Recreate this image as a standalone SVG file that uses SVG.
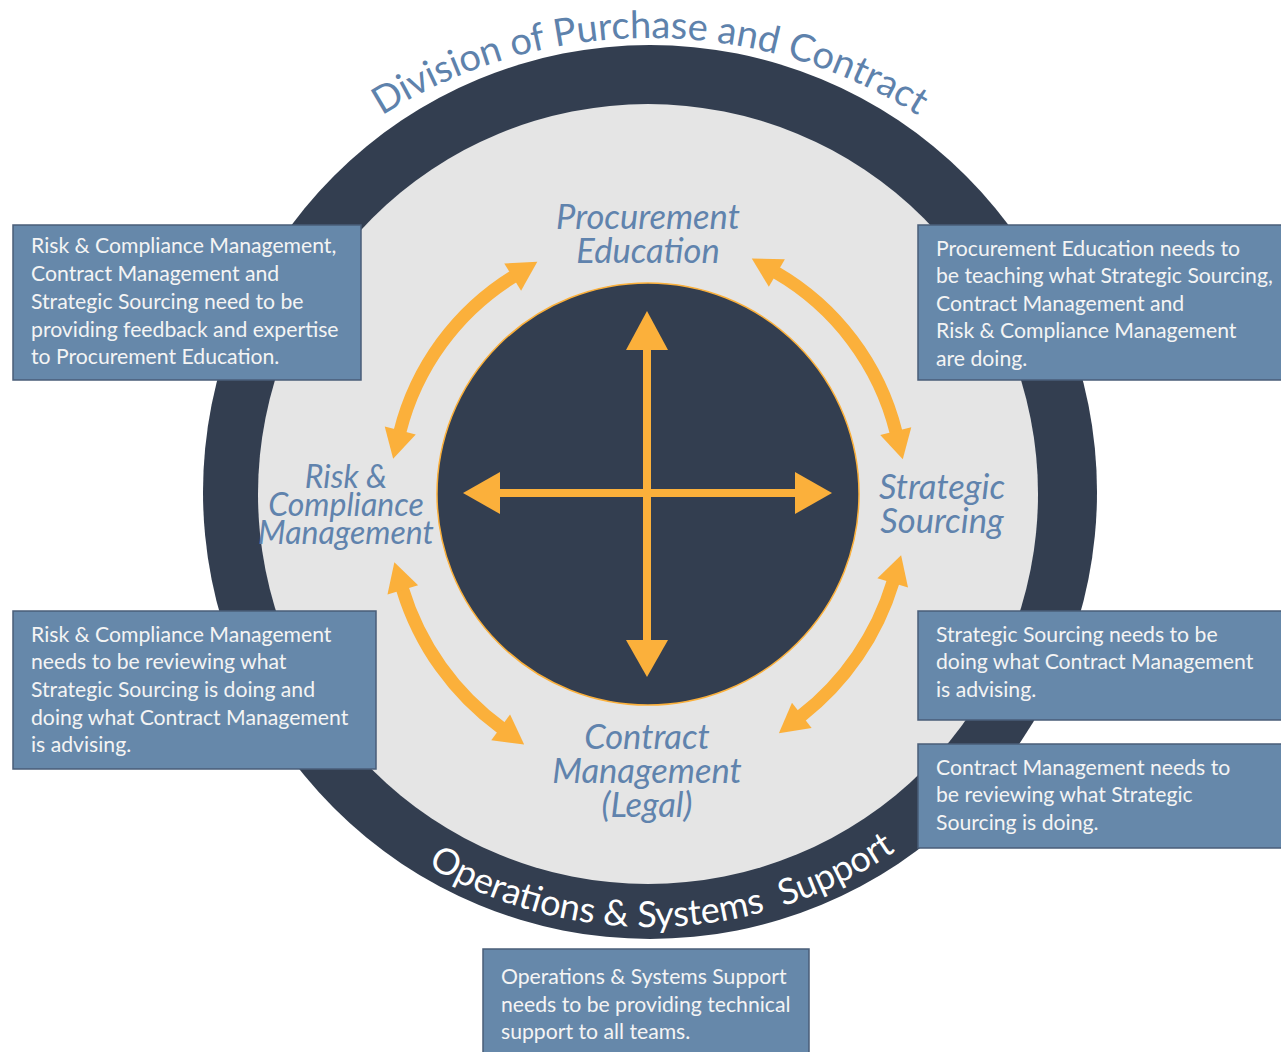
<svg xmlns="http://www.w3.org/2000/svg" width="1281" height="1052" viewBox="0 0 1281 1052">
<defs>
<style>
.box{fill:#6688aa;stroke:#4a5d78;stroke-width:1.5}
.bt{font-family:Lato,"Open Sans",sans-serif;font-size:21.2px;fill:#f4f4f4}
.lbl{font-family:Lato,"Open Sans",sans-serif;font-style:italic;font-size:34.5px;fill:#6083ad;text-anchor:middle}
.lbl-sm{font-size:32px}
.arc{fill:none;stroke:#fbb03b;stroke-width:13;marker-start:url(#ah);marker-end:url(#ah)}
.title{font-family:Lato,"Open Sans",sans-serif;font-size:38px;fill:#5e82ac}
.ops{font-family:Lato,"Open Sans",sans-serif;font-size:36px;fill:#ffffff}
</style>
<marker id="ah" markerUnits="userSpaceOnUse" markerWidth="34" markerHeight="36" refX="1" refY="16" orient="auto-start-reverse" overflow="visible">
<path d="M0,0 L29,16 L0,32 Z" fill="#fbb03b"/>
</marker>
<path id="topPath" d="M148,540 A502,502 0 0 1 1152,540"/>
<path id="botPath" d="M215,492 A435,435 0 0 0 1085,492"/>
</defs>
<rect width="1281" height="1052" fill="#ffffff"/>
<g id="ring">
<circle cx="650" cy="492" r="447" fill="#333e50"/>
<circle cx="648" cy="494" r="390" fill="#e5e5e5"/>
<circle cx="648" cy="494" r="211" fill="#333e50" stroke="#fbb03b" stroke-width="1.5"/>
</g>
<g id="title-division">
<text class="title"><textPath href="#topPath" startOffset="50%" text-anchor="middle">Division of Purchase and Contract</textPath></text>
</g>
<g id="title-operations">
<text class="ops" xml:space="preserve"><textPath href="#botPath" startOffset="697" text-anchor="middle">Operations &amp; Systems  Support</textPath></text>
</g>
<g id="connectors">
<path d="M643,350 h8 v290 h-8 z" fill="#fbb03b"/>
<polygon points="647,311 668,350 626,350" fill="#fbb03b"/>
<polygon points="647,677 668,640 626,640" fill="#fbb03b"/>
<path d="M500,489 h295 v8 h-295 z" fill="#fbb03b"/>
<polygon points="463,493 500,472 500,514" fill="#fbb03b"/>
<polygon points="832,493 795,472 795,514" fill="#fbb03b"/>
<path class="arc" d="M513.5,276.5 A256,256 0 0 0 400,431.5"/>
<path class="arc" d="M776,272.5 A256,256 0 0 1 896,432"/>
<path class="arc" d="M893,582 A268,268 0 0 1 801,716"/>
<path class="arc" d="M402.5,589 A268,268 0 0 0 501.5,728"/>
</g>
<g id="node-procurement-education">
<text class="lbl" x="648" y="229">Procurement</text>
<text class="lbl" x="648" y="263">Education</text>
</g>
<g id="node-risk-compliance">
<text class="lbl lbl-sm" x="346" y="488">Risk &amp;</text>
<text class="lbl lbl-sm" x="346" y="516">Compliance</text>
<text class="lbl lbl-sm" x="346" y="544">Management</text>
</g>
<g id="node-strategic-sourcing">
<text class="lbl" x="942" y="499">Strategic</text>
<text class="lbl" x="942" y="533">Sourcing</text>
</g>
<g id="node-contract-management">
<text class="lbl" x="647" y="749">Contract</text>
<text class="lbl" x="647" y="783">Management</text>
<text class="lbl" x="647" y="817">(Legal)</text>
</g>
<g id="box-risk-feedback">
<rect class="box" x="13" y="225" width="348" height="155"/>
<text class="bt" x="31" y="253">Risk &amp; Compliance Management,</text>
<text class="bt" x="31" y="281">Contract Management and</text>
<text class="bt" x="31" y="309">Strategic Sourcing need to be</text>
<text class="bt" x="31" y="337">providing feedback and expertise</text>
<text class="bt" x="31" y="364">to Procurement Education.</text>
</g>
<g id="box-procurement-teaching">
<rect class="box" x="918" y="225" width="372" height="155"/>
<text class="bt" x="936" y="256">Procurement Education needs to</text>
<text class="bt" x="936" y="283">be teaching what Strategic Sourcing,</text>
<text class="bt" x="936" y="311">Contract Management and</text>
<text class="bt" x="936" y="338">Risk &amp; Compliance Management</text>
<text class="bt" x="936" y="366">are doing.</text>
</g>
<g id="box-risk-reviewing">
<rect class="box" x="13" y="611" width="363" height="158"/>
<text class="bt" x="31" y="642">Risk &amp; Compliance Management</text>
<text class="bt" x="31" y="669">needs to be reviewing what</text>
<text class="bt" x="31" y="697">Strategic Sourcing is doing and</text>
<text class="bt" x="31" y="725">doing what Contract Management</text>
<text class="bt" x="31" y="752">is advising.</text>
</g>
<g id="box-strategic-doing">
<rect class="box" x="918" y="611" width="372" height="109"/>
<text class="bt" x="936" y="642">Strategic Sourcing needs to be</text>
<text class="bt" x="936" y="669">doing what Contract Management</text>
<text class="bt" x="936" y="697">is advising.</text>
</g>
<g id="box-contract-reviewing">
<rect class="box" x="918" y="744" width="372" height="104"/>
<text class="bt" x="936" y="775">Contract Management needs to</text>
<text class="bt" x="936" y="802">be reviewing what Strategic</text>
<text class="bt" x="936" y="830">Sourcing is doing.</text>
</g>
<g id="box-operations-support">
<rect class="box" x="483" y="949" width="326" height="115"/>
<text class="bt" x="501" y="984">Operations &amp; Systems Support</text>
<text class="bt" x="501" y="1012">needs to be providing technical</text>
<text class="bt" x="501" y="1039">support to all teams.</text>
</g>
</svg>
